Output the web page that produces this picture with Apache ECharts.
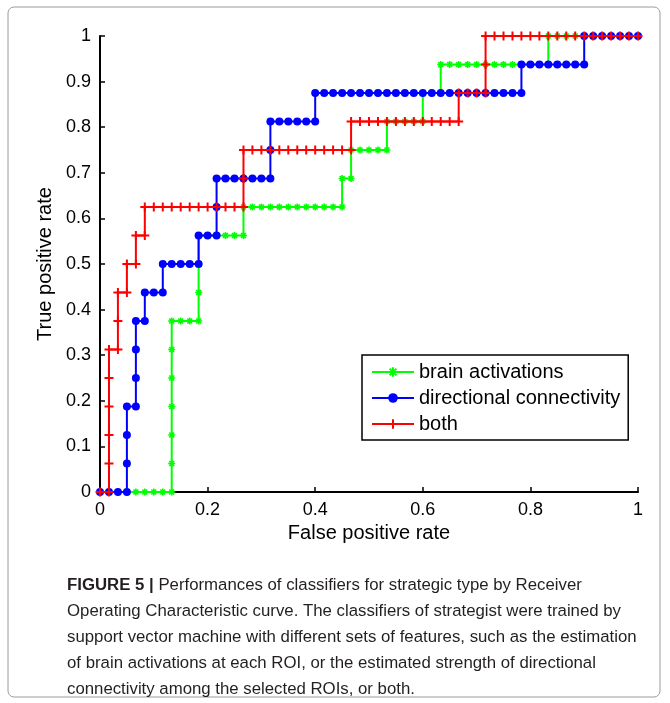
<!DOCTYPE html>
<html>
<head>
<meta charset="utf-8">
<script src="https://cdn.jsdelivr.net/npm/echarts@6/dist/echarts.min.js"></script>
<style>html,body{margin:0;padding:0;background:#fff;}#chart{width:670px;height:703px;}</style>
</head>
<body>
<div id="chart"></div>
<script>
// ROC points: [false positive rate, true positive rate]
const seriesNames = ['brain activations', 'directional connectivity', 'both'];
const xTicks = ['0', '0.2', '0.4', '0.6', '0.8', '1'];
const yTicks = ['0', '0.1', '0.2', '0.3', '0.4', '0.5', '0.6', '0.7', '0.8', '0.9', '1'];

const brainROC = [[0,0],[0.0167,0],[0.0333,0],[0.05,0],[0.0667,0],[0.0833,0],[0.1,0],[0.1167,0],[0.1333,0],
[0.1333,0.0625],[0.1333,0.125],[0.1333,0.1875],[0.1333,0.25],[0.1333,0.3125],[0.1333,0.375],
[0.15,0.375],[0.1667,0.375],[0.1833,0.375],[0.1833,0.4375],[0.1833,0.5],[0.1833,0.5625],
[0.2,0.5625],[0.2167,0.5625],[0.2333,0.5625],[0.25,0.5625],[0.2667,0.5625],[0.2667,0.625],
[0.2833,0.625],[0.3,0.625],[0.3167,0.625],[0.3333,0.625],[0.35,0.625],[0.3667,0.625],[0.3833,0.625],[0.4,0.625],[0.4167,0.625],[0.4333,0.625],[0.45,0.625],
[0.45,0.6875],[0.4667,0.6875],[0.4667,0.75],[0.4833,0.75],[0.5,0.75],[0.5167,0.75],[0.5333,0.75],
[0.5333,0.8125],[0.55,0.8125],[0.5667,0.8125],[0.5833,0.8125],[0.6,0.8125],[0.6,0.875],[0.6167,0.875],[0.6333,0.875],
[0.6333,0.9375],[0.65,0.9375],[0.6667,0.9375],[0.6833,0.9375],[0.7,0.9375],[0.7167,0.9375],[0.7333,0.9375],[0.75,0.9375],[0.7667,0.9375],[0.7833,0.9375],[0.8,0.9375],[0.8167,0.9375],[0.8333,0.9375],
[0.8333,1],[0.85,1],[0.8667,1],[0.8833,1],[0.9,1],[0.9167,1],[0.9333,1],[0.95,1],[0.9667,1],[0.9833,1],[1,1]];

const connectivityROC = [[0,0],[0.0167,0],[0.0333,0],[0.05,0],[0.05,0.0625],[0.05,0.125],[0.05,0.1875],
[0.0667,0.1875],[0.0667,0.25],[0.0667,0.3125],[0.0667,0.375],[0.0833,0.375],[0.0833,0.4375],[0.1,0.4375],[0.1167,0.4375],
[0.1167,0.5],[0.1333,0.5],[0.15,0.5],[0.1667,0.5],[0.1833,0.5],[0.1833,0.5625],[0.2,0.5625],[0.2167,0.5625],
[0.2167,0.625],[0.2167,0.6875],[0.2333,0.6875],[0.25,0.6875],[0.2667,0.6875],[0.2833,0.6875],[0.3,0.6875],[0.3167,0.6875],
[0.3167,0.75],[0.3167,0.8125],[0.3333,0.8125],[0.35,0.8125],[0.3667,0.8125],[0.3833,0.8125],[0.4,0.8125],
[0.4,0.875],[0.4167,0.875],[0.4333,0.875],[0.45,0.875],[0.4667,0.875],[0.4833,0.875],[0.5,0.875],[0.5167,0.875],[0.5333,0.875],[0.55,0.875],[0.5667,0.875],[0.5833,0.875],[0.6,0.875],[0.6167,0.875],[0.6333,0.875],[0.65,0.875],[0.6667,0.875],[0.6833,0.875],[0.7,0.875],[0.7167,0.875],[0.7333,0.875],[0.75,0.875],[0.7667,0.875],[0.7833,0.875],
[0.7833,0.9375],[0.8,0.9375],[0.8167,0.9375],[0.8333,0.9375],[0.85,0.9375],[0.8667,0.9375],[0.8833,0.9375],[0.9,0.9375],
[0.9,1],[0.9167,1],[0.9333,1],[0.95,1],[0.9667,1],[0.9833,1],[1,1]];

const bothROC = [[0,0],[0.0167,0],[0.0167,0.0625],[0.0167,0.125],[0.0167,0.1875],[0.0167,0.25],[0.0167,0.3125],
[0.0333,0.3125],[0.0333,0.375],[0.0333,0.4375],[0.05,0.4375],[0.05,0.5],[0.0667,0.5],[0.0667,0.5625],[0.0833,0.5625],[0.0833,0.625],
[0.1,0.625],[0.1167,0.625],[0.1333,0.625],[0.15,0.625],[0.1667,0.625],[0.1833,0.625],[0.2,0.625],[0.2167,0.625],[0.2333,0.625],[0.25,0.625],[0.2667,0.625],
[0.2667,0.6875],[0.2667,0.75],[0.2833,0.75],[0.3,0.75],[0.3167,0.75],[0.3333,0.75],[0.35,0.75],[0.3667,0.75],[0.3833,0.75],[0.4,0.75],[0.4167,0.75],[0.4333,0.75],[0.45,0.75],[0.4667,0.75],
[0.4667,0.8125],[0.4833,0.8125],[0.5,0.8125],[0.5167,0.8125],[0.5333,0.8125],[0.55,0.8125],[0.5667,0.8125],[0.5833,0.8125],[0.6,0.8125],[0.6167,0.8125],[0.6333,0.8125],[0.65,0.8125],[0.6667,0.8125],
[0.6667,0.875],[0.6833,0.875],[0.7,0.875],[0.7167,0.875],[0.7167,0.9375],[0.7167,1],
[0.7333,1],[0.75,1],[0.7667,1],[0.7833,1],[0.8,1],[0.8167,1],[0.8333,1],[0.85,1],[0.8667,1],[0.8833,1],[0.9,1],[0.9167,1],[0.9333,1],[0.95,1],[0.9667,1],[0.9833,1],[1,1]];

const captionLines = [
  'Performances of classifiers for strategic type by Receiver',
  'Operating Characteristic curve. The classifiers of strategist were trained by',
  'support vector machine with different sets of features, such as the estimation',
  'of brain activations at each ROI, or the estimated strength of directional',
  'connectivity among the selected ROIs, or both.'
];

const FONT = '"Liberation Sans", Arial, Helvetica, sans-serif';
const starPath = 'path://M0 5 L10 5 M5 0 L5 10 M1.5 1.5 L8.5 8.5 M8.5 1.5 L1.5 8.5';
const plusPath = 'path://M0 5 L10 5 M5 0 L5 10';

const chart = echarts.init(document.getElementById('chart'), null, {renderer: 'canvas'});

function axisCommon(ticks) {
  return {
    type: 'value', min: 0, max: 1,
    axisLine: {show: true, lineStyle: {color: '#000', width: 2}},
    axisTick: {show: true, inside: true, length: 5, lineStyle: {color: '#000', width: 1.5}},
    splitLine: {show: false},
    axisLabel: {color: '#000', fontSize: 18, fontFamily: FONT, margin: 9,
      formatter: function (v) { const s = (Math.round(v * 10) / 10).toString(); return ticks.indexOf(s) >= 0 ? s : ''; }},
    nameTextStyle: {color: '#000', fontSize: 20, fontFamily: FONT}
  };
}

const captionGraphics = captionLines.map(function (line, i) {
  return {
    type: 'text', left: 67, top: 577 + i * 26,
    style: {
      text: i === 0 ? '{b|FIGURE 5 |} ' + line : line,
      font: '16.8px ' + FONT, fill: '#231f20',
      rich: {b: {font: 'bold 16.8px ' + FONT, fill: '#231f20'}}
    }
  };
});

chart.setOption({
  animation: false,
  backgroundColor: '#fff',
  grid: {left: 100, right: 32, top: 36, bottom: 211, containLabel: false},
  xAxis: Object.assign(axisCommon(xTicks), {interval: 0.2, name: 'False positive rate', nameLocation: 'middle', nameGap: 28}),
  yAxis: Object.assign(axisCommon(yTicks), {interval: 0.1, name: 'True positive rate', nameLocation: 'middle', nameGap: 40}),
  legend: {
    orient: 'vertical', left: 362, top: 355,
    data: seriesNames,
    itemWidth: 42, itemHeight: 12, itemGap: 6,
    padding: [7, 8, 6, 9],
    borderColor: '#000', borderWidth: 1.5, backgroundColor: '#fff',
    textStyle: {color: '#000', fontSize: 20, fontFamily: FONT}
  },
  graphic: [
    {type: 'rect', shape: {x: 8, y: 7, width: 652, height: 690, r: 6}, style: {fill: 'none', stroke: '#9a9a9a', lineWidth: 1}, silent: true}
  ].concat(captionGraphics),
  series: [
    {name: seriesNames[0], type: 'line', data: brainROC, color: '#00ff00',
     symbol: starPath, symbolSize: 7, showSymbol: true,
     lineStyle: {width: 2, color: '#00ff00'},
     itemStyle: {color: '#00ff00', borderColor: '#00ff00', borderWidth: 1.6}, z: 2},
    {name: seriesNames[1], type: 'line', data: connectivityROC, color: '#0000ff',
     symbol: 'circle', symbolSize: 8, showSymbol: true,
     lineStyle: {width: 2, color: '#0000ff'},
     itemStyle: {color: '#0000ff', borderWidth: 0}, z: 3},
    {name: seriesNames[2], type: 'line', data: bothROC, color: '#ff0000',
     symbol: plusPath, symbolSize: 9, showSymbol: true,
     lineStyle: {width: 2, color: '#ff0000'},
     itemStyle: {color: '#ff0000', borderColor: '#ff0000', borderWidth: 2}, z: 4}
  ]
});
</script>
</body>
</html>
